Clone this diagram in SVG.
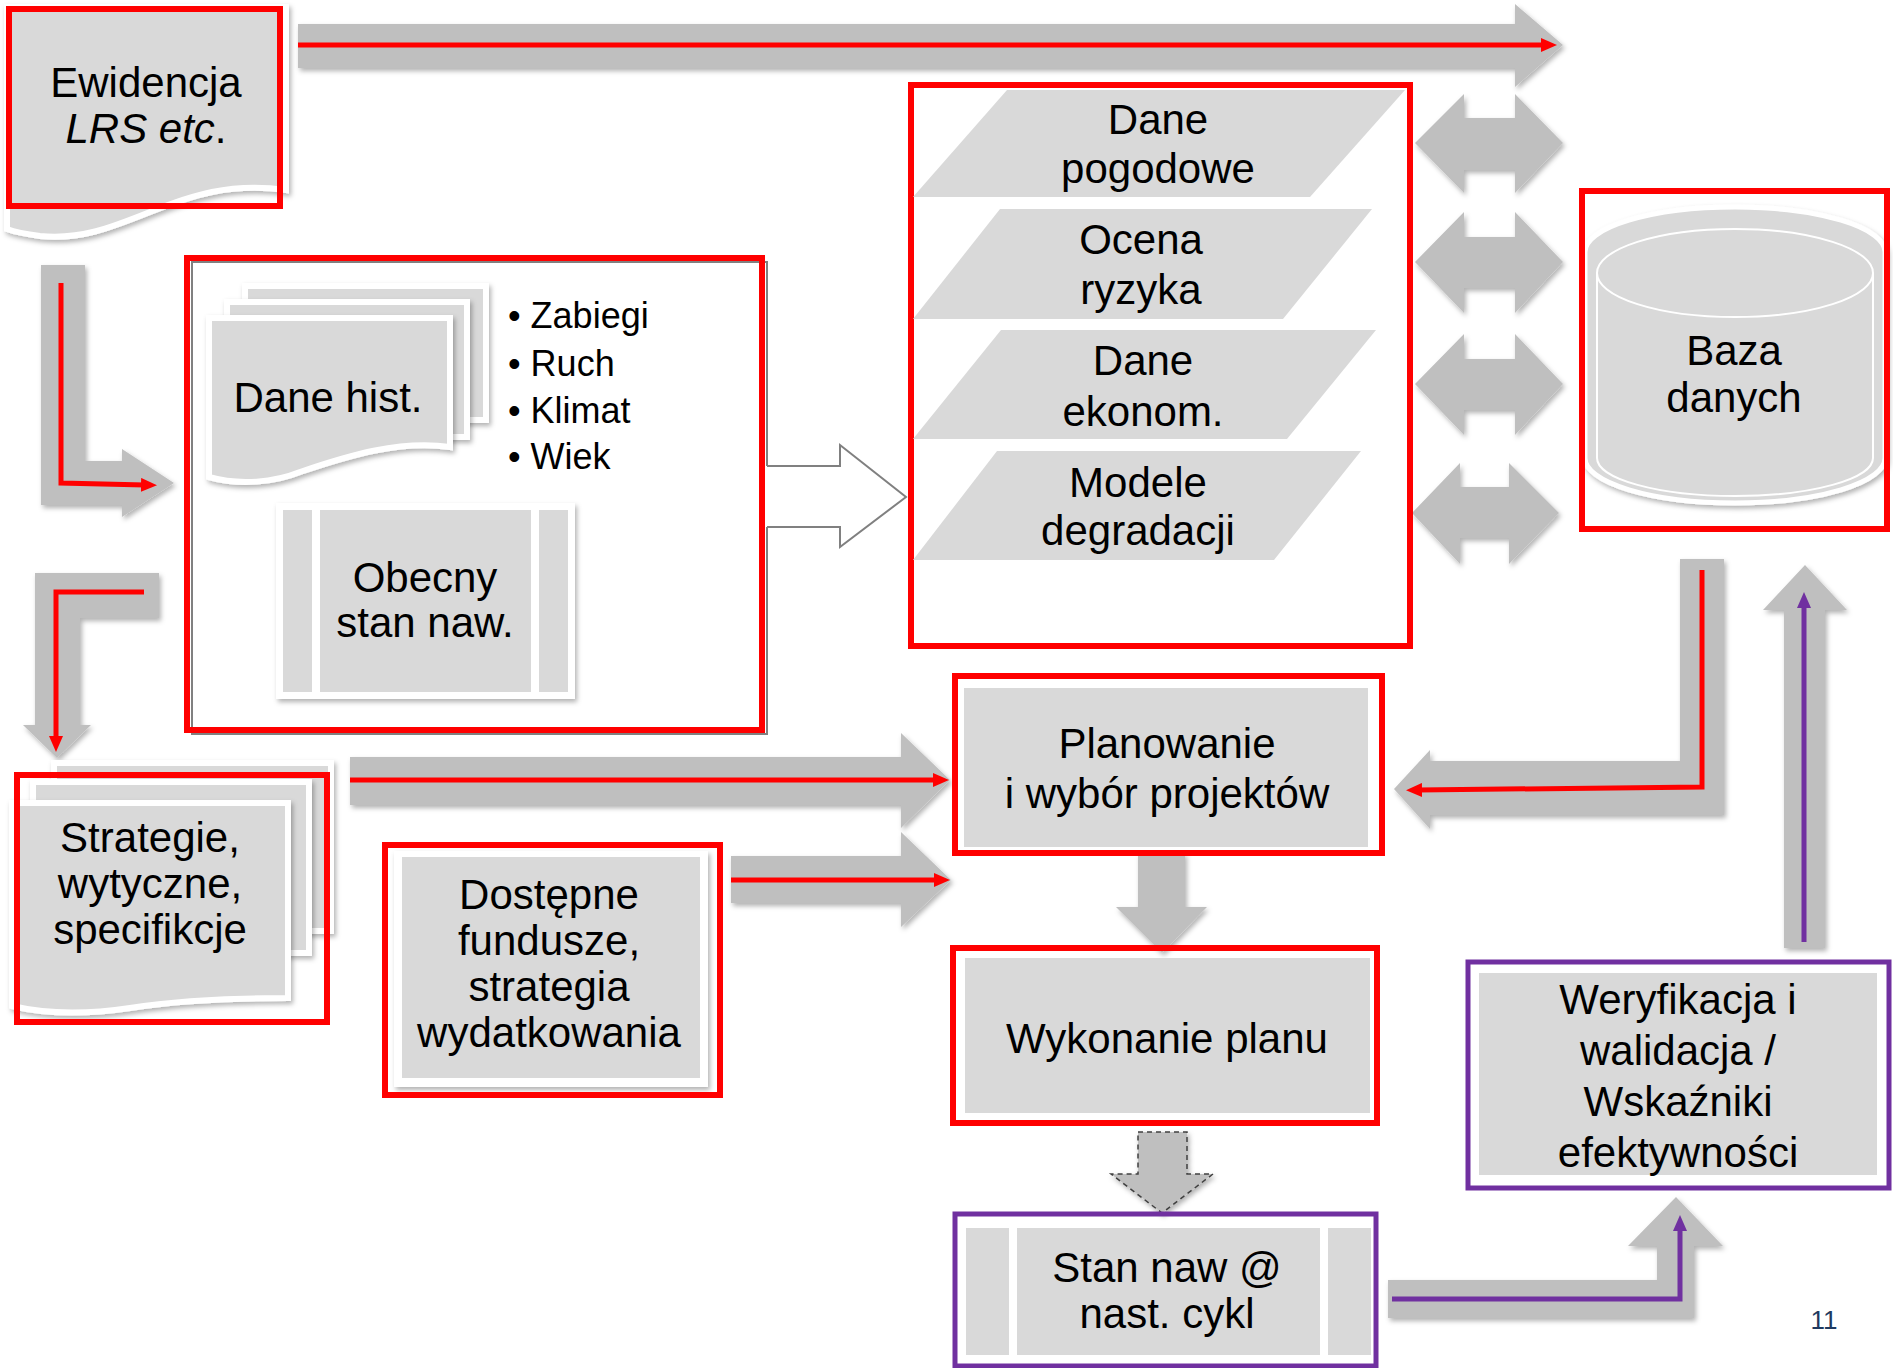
<svg xmlns="http://www.w3.org/2000/svg" width="1893" height="1368" viewBox="0 0 1893 1368">
<defs>
  <filter id="sh" x="-10%" y="-10%" width="130%" height="140%">
    <feDropShadow dx="2" dy="3" stdDeviation="2.5" flood-color="#000" flood-opacity="0.3"/>
  </filter>
  <marker id="mr" viewBox="0 0 16 14" refX="4" refY="7" markerWidth="16" markerHeight="14" markerUnits="userSpaceOnUse" orient="auto">
    <path d="M0,0 L16,7 L0,14 Z" fill="#ff0000"/>
  </marker>
  <marker id="mp" viewBox="0 0 16 14" refX="4" refY="7" markerWidth="16" markerHeight="14" markerUnits="userSpaceOnUse" orient="auto">
    <path d="M0,0 L16,7 L0,14 Z" fill="#7030a0"/>
  </marker>
</defs>
<style>
  .t{font-family:"Liberation Sans",Arial,sans-serif;font-size:42px;fill:#000;text-anchor:middle}
  .b{font-family:"Liberation Sans",Arial,sans-serif;font-size:36px;fill:#000}
  .arr{fill:#bfbfbf;filter:url(#sh)}
  .red{fill:none;stroke:#ff0000;stroke-width:6}
  .pur{fill:none;stroke:#7030a0;stroke-width:5}
  .rl{fill:none;stroke:#ff0000;stroke-width:5;marker-end:url(#mr)}
  .pl{fill:none;stroke:#7030a0;stroke-width:5;marker-end:url(#mp)}
  .doc{fill:#d9d9d9;stroke:#fff;stroke-width:6;filter:url(#sh)}
  .g{fill:#d9d9d9}
  .card{fill:#fff;filter:url(#sh)}
  .para{fill:#d9d9d9}
  .dbl{fill:#bfbfbf;filter:url(#sh)}
</style>
<rect x="0" y="0" width="1893" height="1368" fill="#fff"/>

<!-- flow arrows -->
<g id="connectors">
  <!-- Ewidencja to the database (top band) -->
  <path class="arr" d="M298,24 H1515 V4 L1563,45 L1515,87 V68 H298 Z"/>
  <path class="rl" d="M298,45 H1545"/>
  <!-- Ewidencja down into the data container -->
  <path class="arr" d="M41,265 H85 V461 H122 V449 L174,483 L122,517 V505 H41 Z"/>
  <path class="rl" d="M61,283 V483 L145,485"/>
  <!-- container down to the strategies -->
  <path class="arr" d="M159,573 V618 H80 V725 H91 L57,758 L23,725 H35 V573 Z"/>
  <path class="rl" d="M144,592 H56 V740"/>
  <!-- strategies to planning -->
  <path class="arr" d="M350,757 H901 V733 L950,780 L901,828 V805 H350 Z"/>
  <path class="rl" d="M350,780 H937"/>
  <!-- funds to planning -->
  <path class="arr" d="M731,856 H901 V832 L951,880 L901,927 V903 H731 Z"/>
  <path class="rl" d="M731,880 H938"/>
  <!-- database back to planning -->
  <path class="arr" d="M1680,559 H1724 V815 H1430 V829 L1394,789 L1430,750 V761 H1680 Z"/>
  <path class="rl" d="M1702,570 V787 L1418,790"/>
  <!-- planning to execution -->
  <path class="arr" d="M1138,853 H1185 V907 H1207 L1162,953 L1116,907 H1138 Z"/>
  <!-- execution to next-cycle state (dashed) -->
  <path d="M1138,1132 H1187 V1174 H1213 L1162,1213 L1111,1174 H1138 Z" fill="#bfbfbf" stroke="#404040" stroke-width="1.5" stroke-dasharray="5,4" filter="url(#sh)"/>
  <!-- next-cycle state to verification -->
  <path class="arr" d="M1388,1280 H1657 V1246 H1628 L1676,1197 L1723,1246 H1694 V1318 H1388 Z"/>
  <path class="pl" d="M1392,1299 H1680 V1227"/>
  <!-- verification back to database -->
  <path class="arr" d="M1784,948 V610 H1763 L1805,565 L1847,610 H1825 V948 Z"/>
  <path class="pl" d="M1804,942 V604"/>
  <!-- data layers exchanging with the database -->
  <path class="dbl" d="M1415,143 L1464,94 V118 H1515 V94 L1563,143 L1515,193 V170 H1464 V193 Z"/>
  <path class="dbl" d="M1415,262 L1464,212 V237 H1515 V212 L1563,262 L1515,313 V288 H1464 V313 Z"/>
  <path class="dbl" d="M1415,384 L1464,334 V359 H1515 V334 L1563,384 L1515,435 V410 H1464 V435 Z"/>
  <path class="dbl" d="M1412,513 L1460,463 V487 H1509 V463 L1559,513 L1509,564 V538 H1460 V564 Z"/>
</g>

<!-- Ewidencja LRS -->
<g id="ewidencja">
  <path class="doc" d="M7,7 H286 V190 C230,182 190,196 150,212 C110,228 80,240 40,236 C25,234 15,232 7,229 Z"/>
  <rect class="red" x="9" y="9" width="271" height="197"/>
  <text class="t" x="146" y="97">Ewidencja</text>
  <text class="t" x="146" y="143"><tspan font-style="italic">LRS etc</tspan>.</text>
</g>

<!-- historical data container -->
<g id="dane-hist-container">
  <rect x="192" y="262" width="575" height="472" fill="none" stroke="#808080" stroke-width="2"/>
  <path d="M762,466 H840 V445 L906,497 L840,547 V527 H762 Z" fill="#fff"/>
  <path d="M767,466 H840 V445 L906,497 L840,547 V527 H767" fill="none" stroke="#808080" stroke-width="2"/>
  <rect class="red" x="187" y="258" width="575" height="472"/>
</g>

<g id="dane-hist">
  <rect class="doc" x="245" y="286" width="241" height="134"/>
  <rect class="doc" x="227" y="302" width="240" height="135"/>
  <path class="doc" d="M209,318 H450 V447 C400,440 350,455 300,472 C275,482 240,486 209,477 Z"/>
  <text class="t" x="328" y="412">Dane hist.</text>
</g>

<g id="lista">
  <text class="b" x="508" y="328">• Zabiegi</text>
  <text class="b" x="508" y="376">• Ruch</text>
  <text class="b" x="508" y="423">• Klimat</text>
  <text class="b" x="508" y="469">• Wiek</text>
</g>

<g id="obecny-stan">
  <rect class="card" x="276" y="503" width="299" height="196"/>
  <rect class="g" x="283" y="510" width="29" height="182"/>
  <rect class="g" x="320" y="510" width="211" height="182"/>
  <rect class="g" x="539" y="510" width="29" height="182"/>
  <text class="t" x="425" y="592">Obecny</text>
  <text class="t" x="425" y="637">stan naw.</text>
</g>

<!-- analysis layers -->
<g id="dane-container">
  <rect class="red" x="911" y="85" width="499" height="561"/>
</g>
<g id="dane-pogodowe">
  <polygon class="para" points="1007,90 1405,90 1310,197 913,197"/>
  <text class="t" x="1158" y="134">Dane</text>
  <text class="t" x="1158" y="183">pogodowe</text>
</g>
<g id="ocena-ryzyka">
  <polygon class="para" points="1000,209 1372,209 1283,319 913,319"/>
  <text class="t" x="1141" y="254">Ocena</text>
  <text class="t" x="1141" y="304">ryzyka</text>
</g>
<g id="dane-ekonom">
  <polygon class="para" points="1001,330 1376,330 1287,439 913,439"/>
  <text class="t" x="1143" y="375">Dane</text>
  <text class="t" x="1143" y="426">ekonom.</text>
</g>
<g id="modele-degradacji">
  <polygon class="para" points="997,451 1361,451 1274,560 913,560"/>
  <text class="t" x="1138" y="497">Modele</text>
  <text class="t" x="1138" y="545">degradacji</text>
</g>

<!-- database -->
<g id="baza-danych">
  <path d="M1585,252 A150,45 0 0 1 1885,252 V458 A150,45 0 0 1 1585,458 Z" fill="#d9d9d9" stroke="#fff" stroke-width="5" filter="url(#sh)"/>
  <ellipse cx="1735" cy="273" rx="138" ry="44" fill="none" stroke="#fff" stroke-width="2"/>
  <path d="M1597,273 V458 A138,38 0 0 0 1873,458 V273" fill="none" stroke="#fff" stroke-width="2"/>
  <rect class="red" x="1582" y="191" width="305" height="338"/>
  <text class="t" x="1734" y="365">Baza</text>
  <text class="t" x="1734" y="412">danych</text>
</g>

<!-- strategies -->
<g id="strategie">
  <rect class="doc" x="54" y="763" width="277" height="168"/>
  <rect class="doc" x="33" y="782" width="276" height="171"/>
  <path class="doc" d="M12,803 H288 V998 C230,998 180,1000 130,1008 C90,1014 50,1015 12,1006 Z"/>
  <rect class="red" x="17" y="775" width="310" height="247"/>
  <text class="t" x="150" y="852">Strategie,</text>
  <text class="t" x="150" y="898">wytyczne,</text>
  <text class="t" x="150" y="944">specifikcje</text>
</g>

<g id="fundusze">
  <rect class="card" x="394" y="851" width="314" height="236"/>
  <rect class="g" x="402" y="857" width="298" height="221"/>
  <rect class="red" x="385" y="845" width="335" height="250"/>
  <text class="t" x="549" y="909">Dostępne</text>
  <text class="t" x="549" y="955">fundusze,</text>
  <text class="t" x="549" y="1001">strategia</text>
  <text class="t" x="549" y="1047">wydatkowania</text>
</g>

<g id="planowanie">
  <rect class="g" x="964" y="688" width="404" height="159"/>
  <rect class="red" x="955" y="676" width="427" height="177"/>
  <text class="t" x="1167" y="758">Planowanie</text>
  <text class="t" x="1167" y="808">i wybór projektów</text>
</g>

<g id="wykonanie">
  <rect class="g" x="965" y="958" width="405" height="155"/>
  <rect class="red" x="953" y="948" width="424" height="175"/>
  <text class="t" x="1167" y="1053">Wykonanie planu</text>
</g>

<g id="stan-nast-cykl">
  <rect class="g" x="966" y="1228" width="43" height="127"/>
  <rect class="g" x="1017" y="1228" width="303" height="127"/>
  <rect class="g" x="1328" y="1228" width="43" height="127"/>
  <rect class="pur" x="955" y="1214" width="421" height="152"/>
  <text class="t" x="1167" y="1282">Stan naw @</text>
  <text class="t" x="1167" y="1328">nast. cykl</text>
</g>

<g id="weryfikacja">
  <rect class="g" x="1479" y="973" width="398" height="202"/>
  <rect class="pur" x="1468" y="962" width="421" height="226"/>
  <text class="t" x="1678" y="1014">Weryfikacja i</text>
  <text class="t" x="1678" y="1065">walidacja /</text>
  <text class="t" x="1678" y="1116">Wskaźniki</text>
  <text class="t" x="1678" y="1167">efektywności</text>
</g>

<text x="1824" y="1329" font-family="'Liberation Sans',Arial,sans-serif" font-size="26" fill="#1f3a60" text-anchor="middle">11</text>
</svg>
